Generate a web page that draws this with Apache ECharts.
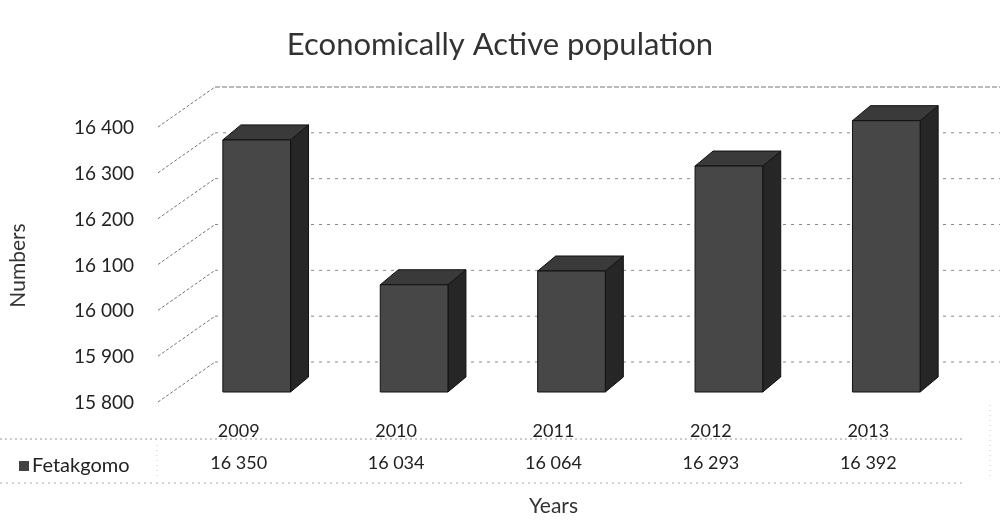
<!DOCTYPE html>
<html>
<head>
<meta charset="utf-8">
<script src="https://cdn.jsdelivr.net/npm/echarts@6/dist/echarts.min.js"></script>
<style>html,body{margin:0;padding:0;background:#fff}#c{width:1000px;height:522px}</style>
</head>
<body>
<div id="c"></div>
<script>
const years = ['2009', '2010', '2011', '2012', '2013'];
const seriesName = 'Fetakgomo';
const values = [16350, 16034, 16064, 16293, 16392];
const yTicks = [15800, 15900, 16000, 16100, 16200, 16300, 16400];

const FONT = 'Lato, "Open Sans", sans-serif';
const fmt = n => String(n).replace(/\B(?=(\d{3})+(?!\d))/g, ' ');

// 3D geometry (pixels)
const BAR_OFF = [18, -11];   // bar plane offset from front plane
const BAR_DEPTH = [18, -15]; // bar depth
const WALL_OFF = [55, -41];  // back wall offset from front plane

const chart = echarts.init(document.getElementById('c'));
chart.setOption({
  animation: false,
  backgroundColor: '#fff',
  title: {
    text: 'Economically Active population',
    left: 'center', top: 24,
    textStyle: { fontFamily: FONT, fontSize: 31, fontWeight: 'normal', color: '#333' }
  },
  legend: {
    data: [seriesName],
    left: 14, top: 451,
    icon: 'rect', itemWidth: 10, itemHeight: 10, itemGap: 4,
    textStyle: { fontFamily: FONT, fontSize: 20, color: '#222', padding: [0, 0, 0, -2] }
  },
  grid: { left: 157, right: 53, top: 128, bottom: 119 },
  xAxis: {
    type: 'category', data: years,
    axisLine: { show: false }, axisTick: { show: false },
    name: 'Years', nameLocation: 'middle', nameGap: 93,
    nameTextStyle: { fontFamily: FONT, fontSize: 21, color: '#333' },
    axisLabel: {
      margin: 12,
      formatter: (v, i) => '{y|' + v + '}\n{v|' + fmt(values[i]) + '}',
      rich: {
        y: { fontFamily: FONT, fontSize: 18, color: '#222', lineHeight: 32 },
        v: { fontFamily: FONT, fontSize: 18, color: '#222', lineHeight: 32 }
      }
    }
  },
  yAxis: {
    type: 'value', min: 15800, max: 16400, interval: 100,
    axisLine: { show: false }, axisTick: { show: false }, splitLine: { show: false },
    name: 'Numbers', nameLocation: 'middle', nameRotate: 90, nameGap: 131,
    nameTextStyle: { fontFamily: FONT, fontSize: 21, color: '#333' },
    axisLabel: { margin: 26, fontFamily: FONT, fontSize: 19, color: '#222', formatter: v => fmt(v) }
  },
  graphic: [
    { type: 'line', shape: { x1: 0, y1: 439, x2: 962, y2: 439 }, style: { stroke: '#999', lineDash: [2, 3], lineWidth: 1 } },
    { type: 'line', shape: { x1: 0, y1: 483, x2: 962, y2: 483 }, style: { stroke: '#aaa', lineDash: [2, 4], lineWidth: 1 } },
    { type: 'line', shape: { x1: 157, y1: 445, x2: 157, y2: 480 }, style: { stroke: '#ccc', lineDash: [1, 4], lineWidth: 1 } },
    { type: 'line', shape: { x1: 990, y1: 405, x2: 990, y2: 480 }, style: { stroke: '#ccc', lineDash: [1, 4], lineWidth: 1 } }
  ],
  series: [
    {
      type: 'custom', name: 'walls', silent: true, z: 1,
      data: yTicks.map(v => [0, v]),
      encode: { x: 0, y: 1 },
      renderItem: (params, api) => {
        const p = api.coord([0, api.value(1)]);
        const x0 = params.coordSys.x - 2;
        const y0 = p[1] - 1;
        const bx = params.coordSys.x + WALL_OFF[0];
        const by = p[1] + WALL_OFF[1];
        const isTop = api.value(1) === 16400;
        return {
          type: 'group',
          children: [
            { type: 'line', shape: { x1: x0, y1: y0, x2: bx, y2: by }, style: { stroke: '#777', lineWidth: 1, lineDash: [3, 2] } },
            { type: 'line', shape: { x1: bx, y1: by, x2: 1000, y2: by }, style: { stroke: isTop ? '#777' : '#888', lineWidth: 1, lineDash: isTop ? [5, 2] : [3, 5] } }
          ]
        };
      }
    },
    {
      type: 'custom', name: seriesName, z: 3,
      itemStyle: { color: '#444' },
      data: values.map((v, i) => [i, v]),
      encode: { x: 0, y: 1 },
      renderItem: (params, api) => {
        const i = api.value(0), v = api.value(1);
        const top = api.coord([i, v]);
        const base = api.coord([i, 15800]);
        const bw = api.size([1, 0])[0] * 0.43;
        const cx = top[0] + BAR_OFF[0];
        const yt = top[1] + BAR_OFF[1];
        const yb = base[1] + BAR_OFF[1];
        const x0 = cx - bw / 2, x1 = cx + bw / 2;
        const dx = BAR_DEPTH[0], dy = BAR_DEPTH[1];
        const edge = { stroke: '#111', lineWidth: 1 };
        return {
          type: 'group',
          children: [
            { type: 'polygon', shape: { points: [[x1, yt], [x1 + dx, yt + dy], [x1 + dx, yb + dy], [x1, yb]] }, style: Object.assign({ fill: '#262626' }, edge) },
            { type: 'polygon', shape: { points: [[x0, yt], [x0 + dx, yt + dy], [x1 + dx, yt + dy], [x1, yt]] }, style: Object.assign({ fill: '#3a3a3a' }, edge) },
            { type: 'rect', shape: { x: x0, y: yt, width: bw, height: yb - yt }, style: Object.assign({ fill: '#474747' }, edge) }
          ]
        };
      }
    }
  ]
});
</script>
</body>
</html>
